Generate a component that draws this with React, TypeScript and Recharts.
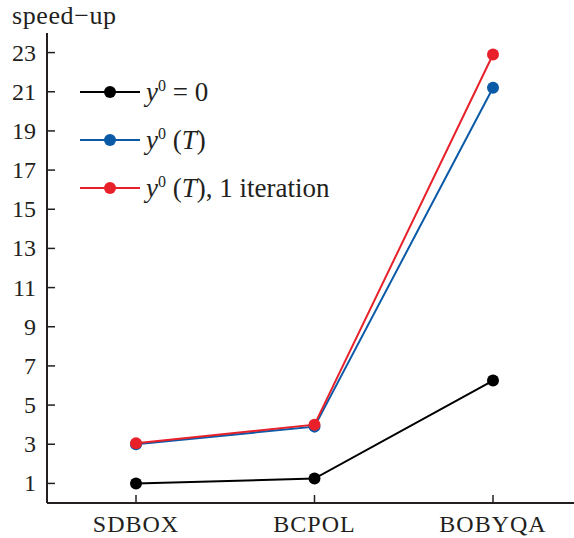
import { LineChart, Line, XAxis, YAxis } from "recharts";

const categories = ["SDBOX", "BCPOL", "BOBYQA"];
const zeroStart = [1.0, 1.25, 6.25];
const trajStart = [3.0, 3.9, 21.2];
const trajOneIter = [3.05, 4.0, 22.9];
const yTicks = [1, 3, 5, 7, 9, 11, 13, 15, 17, 19, 21, 23];

const FONT = "'Liberation Serif', 'DejaVu Serif', serif";
const AXIS = "#231f20";

const series = [
  { key: "zero", color: "#000000" },
  { key: "traj", color: "#0b5aa8" },
  { key: "iter", color: "#e8202a" },
];

const data = categories.map((name, i) => ({
  name,
  zero: zeroStart[i],
  traj: trajStart[i],
  iter: trajOneIter[i],
}));

const YTick = (props: any) => {
  const { x, y, payload } = props;
  return (
    <g>
      <line x1={x} x2={x + 8} y1={y} y2={y} stroke={AXIS} strokeWidth={1.5} />
      <text x={x - 11} y={y + 8} textAnchor="end" fontFamily={FONT} fontSize={24} fill="#231f20">
        {payload.value}
      </text>
    </g>
  );
};

const XTick = (props: any) => {
  const { x, y, payload } = props;
  return (
    <g>
      <line x1={x} x2={x} y1={y} y2={y - 8} stroke={AXIS} strokeWidth={1.5} />
      <text x={x} y={y + 29} textAnchor="middle" fontFamily={FONT} fontSize={24} letterSpacing={1} fill="#231f20">
        {payload.value}
      </text>
    </g>
  );
};

const legendLabels = [
  <>
    <i>y</i>
    <sup style={{ fontSize: 16 }}>0</sup> = 0
  </>,
  <>
    <i>y</i>
    <sup style={{ fontSize: 16 }}>0</sup> (<i>T</i>)
  </>,
  <>
    <i>y</i>
    <sup style={{ fontSize: 16 }}>0</sup> (<i>T</i>), 1 iteration
  </>,
];

const ChartLegend = () => (
  <div
    style={{
      position: "absolute",
      left: 80,
      top: 68,
      fontFamily: FONT,
      fontSize: 27,
      color: "#231f20",
    }}
  >
    {series.map((s, i) => (
      <div key={s.key} style={{ height: 48, display: "flex", alignItems: "center" }}>
        <svg width={62} height={14} style={{ marginRight: 4 }}>
          <line x1={0} x2={60} y1={7} y2={7} stroke={s.color} strokeWidth={2} />
          <circle cx={30} cy={7} r={6} fill={s.color} />
        </svg>
        <span style={{ lineHeight: 1, whiteSpace: "nowrap" }}>{legendLabels[i]}</span>
      </div>
    ))}
  </div>
);

export default function App() {
  return (
    <div style={{ position: "fixed", left: 0, top: 0, width: 574, height: 538, background: "#fff" }}>
      <LineChart width={574} height={538} data={data} margin={{ top: 33, right: 0, bottom: 0, left: 0 }}>
        <XAxis
          dataKey="name"
          type="category"
          height={35}
          padding={{ left: 89, right: 81 }}
          axisLine={{ stroke: AXIS, strokeWidth: 2 }}
          tickLine={false}
          tickSize={0}
          tickMargin={0}
          tick={<XTick />}
          interval={0}
        />
        <YAxis
          type="number"
          domain={[0, 24]}
          ticks={yTicks}
          width={47}
          axisLine={{ stroke: AXIS, strokeWidth: 2 }}
          tickLine={false}
          tickSize={0}
          tickMargin={0}
          tick={<YTick />}
          interval={0}
        />
        {series.map((s) => (
          <Line
            key={s.key}
            dataKey={s.key}
            type="linear"
            stroke={s.color}
            strokeWidth={2}
            dot={{ r: 6, fill: s.color, stroke: "none" }}
            activeDot={false}
            isAnimationActive={false}
          />
        ))}
      </LineChart>
      <div
        style={{
          position: "absolute",
          left: 12,
          top: 1,
          fontFamily: FONT,
          fontSize: 26,
          color: "#231f20",
          letterSpacing: 0.6,
        }}
      >
        speed−up
      </div>
      <ChartLegend />
    </div>
  );
}
